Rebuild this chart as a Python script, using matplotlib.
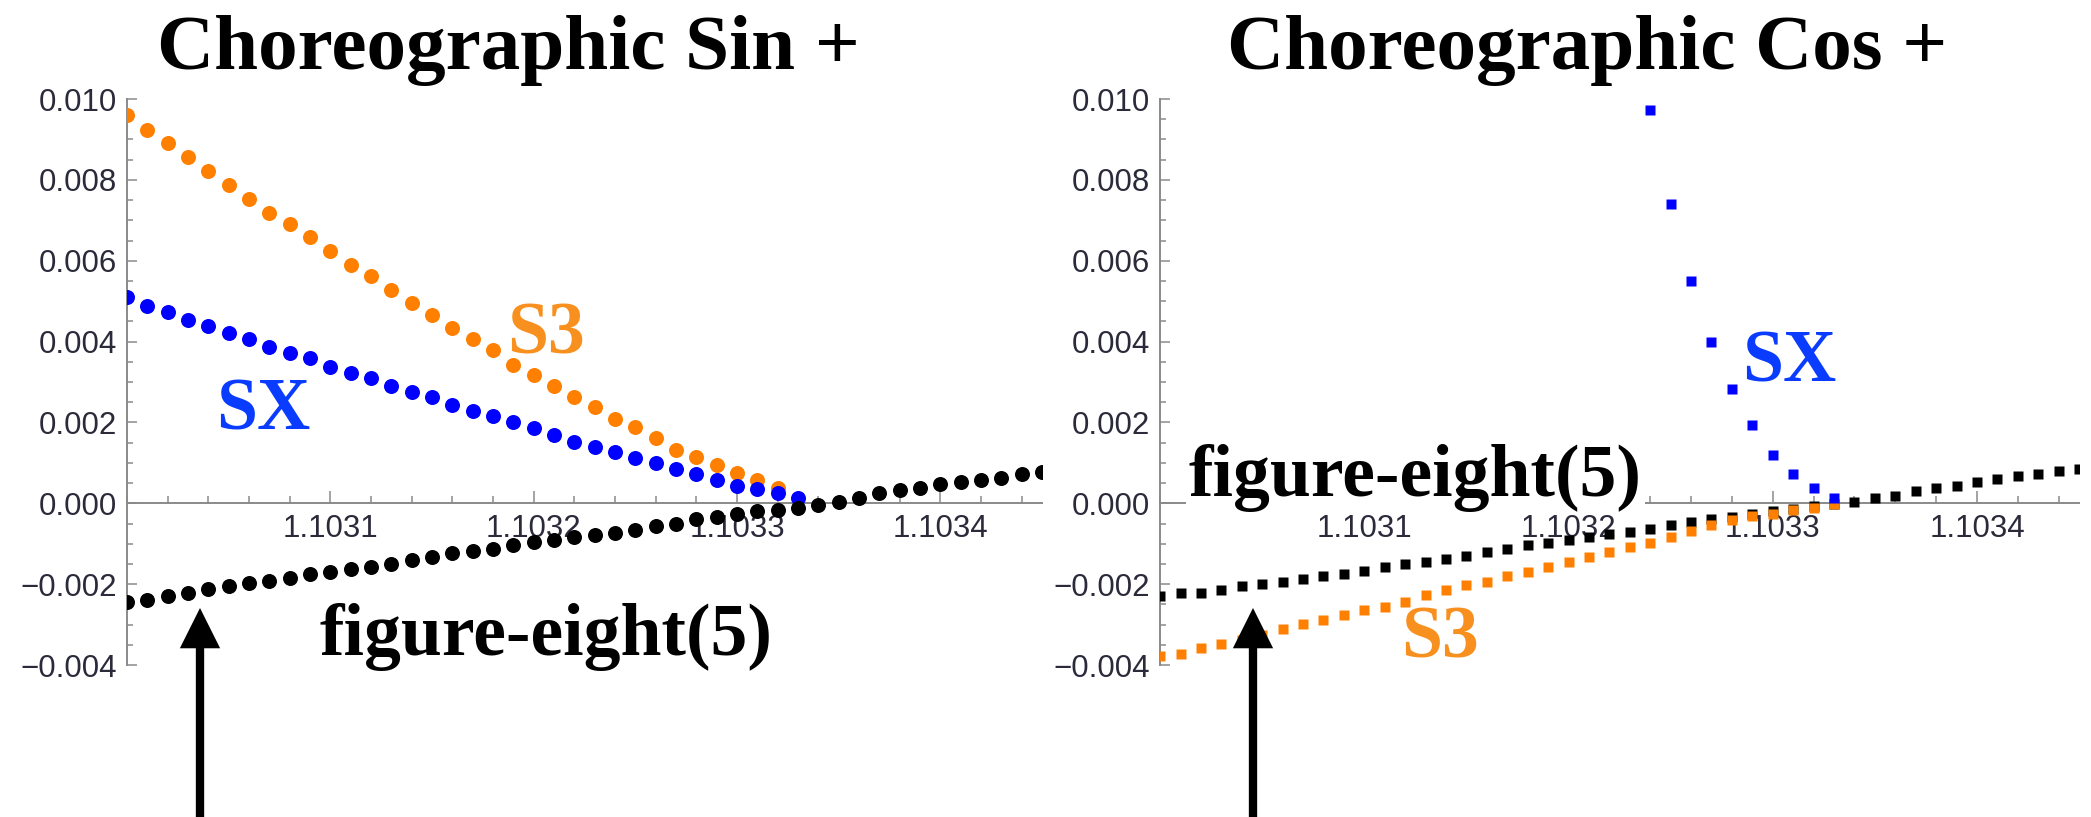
import matplotlib
matplotlib.use("Agg")
import matplotlib.pyplot as plt
from matplotlib.ticker import MultipleLocator, FixedLocator, FuncFormatter

# ── data ──────────────────────────────────────────────────────────────────
x_all = [1.10300, 1.10301, 1.10302, 1.10303, 1.10304, 1.10305, 1.10306, 1.10307,
         1.10308, 1.10309, 1.10310, 1.10311, 1.10312, 1.10313, 1.10314, 1.10315,
         1.10316, 1.10317, 1.10318, 1.10319, 1.10320, 1.10321, 1.10322, 1.10323,
         1.10324, 1.10325, 1.10326, 1.10327, 1.10328, 1.10329, 1.10330, 1.10331,
         1.10332, 1.10333, 1.10334, 1.10335, 1.10336, 1.10337, 1.10338, 1.10339,
         1.10340, 1.10341, 1.10342, 1.10343, 1.10344, 1.10345]

# left panel: Choreographic Sin +
sin_s3 = [0.00960, 0.00923, 0.00890, 0.00857, 0.00822, 0.00788, 0.00752, 0.00719,
          0.00691, 0.00658, 0.00625, 0.00590, 0.00563, 0.00528, 0.00496, 0.00467,
          0.00434, 0.00407, 0.00378, 0.00343, 0.00318, 0.00291, 0.00264, 0.00238,
          0.00209, 0.00188, 0.00161, 0.00133, 0.00114, 0.00094, 0.00075, 0.00057,
          0.00039]
sin_sx = [0.00511, 0.00489, 0.00474, 0.00454, 0.00439, 0.00421, 0.00407, 0.00386,
          0.00371, 0.00359, 0.00338, 0.00323, 0.00310, 0.00291, 0.00275, 0.00263,
          0.00244, 0.00228, 0.00216, 0.00201, 0.00187, 0.00168, 0.00151, 0.00139,
          0.00127, 0.00113, 0.00100, 0.00086, 0.00072, 0.00057, 0.00044, 0.00036,
          0.00026, 0.00014]
sin_fig8 = [-0.00244, -0.00238, -0.00230, -0.00221, -0.00213, -0.00205, -0.00198, -0.00193,
            -0.00184, -0.00175, -0.00170, -0.00163, -0.00157, -0.00151, -0.00141, -0.00133,
            -0.00124, -0.00119, -0.00112, -0.00104, -0.00096, -0.00090, -0.00083, -0.00079,
            -0.00073, -0.00067, -0.00056, -0.00050, -0.00040, -0.00034, -0.00027, -0.00019,
            -0.00017, -0.00011, -0.00005, 0.00003, 0.00012, 0.00025, 0.00034, 0.00039,
            0.00047, 0.00053, 0.00058, 0.00063, 0.00072, 0.00077]

# right panel: Choreographic Cos +
cos_s3 = [-0.00378, -0.00373, -0.00359, -0.00347, -0.00337, -0.00325, -0.00312, -0.00299,
          -0.00289, -0.00277, -0.00264, -0.00256, -0.00244, -0.00227, -0.00215, -0.00202,
          -0.00194, -0.00180, -0.00170, -0.00157, -0.00145, -0.00134, -0.00121, -0.00108,
          -0.00098, -0.00083, -0.00068, -0.00054, -0.00042, -0.00032, -0.00026, -0.00017,
          -0.00011, -0.00002]
cos_sx_x = [1.10324, 1.10325, 1.10326, 1.10327, 1.10328, 1.10329, 1.10330, 1.10331,
            1.10332, 1.10333]
cos_sx = [0.00972, 0.00740, 0.00549, 0.00398, 0.00283, 0.00194, 0.00119, 0.00072,
          0.00039, 0.00014]
cos_fig8 = [-0.00229, -0.00223, -0.00221, -0.00215, -0.00205, -0.00200, -0.00194, -0.00188,
            -0.00179, -0.00174, -0.00167, -0.00157, -0.00149, -0.00145, -0.00137, -0.00131,
            -0.00120, -0.00112, -0.00104, -0.00098, -0.00091, -0.00083, -0.00077, -0.00071,
            -0.00063, -0.00054, -0.00046, -0.00040, -0.00034, -0.00027, -0.00019, -0.00013,
            -0.00007, -0.00001, 0.00003, 0.00012, 0.00018, 0.00030, 0.00039, 0.00044,
            0.00053, 0.00059, 0.00067, 0.00073, 0.00080, 0.00086]

x_major = [1.1031, 1.1032, 1.1033, 1.1034]
titles = ["Choreographic Sin +", "Choreographic Cos +"]

ORANGE = "#ff8000"
BLUE = "#0000ff"
S3_TXT = "#f7901e"
SX_TXT = "#0a3cff"
AXIS_GRAY = "#8a8a8a"
SERIF = "Liberation Serif"

fig = plt.figure(figsize=(20.91, 8.17), dpi=100)
ax_l = fig.add_axes([0.0607, 0.1860, 0.4376, 0.6928])
ax_r = fig.add_axes([0.5548, 0.1860, 0.4395, 0.6928])


def style_axes(ax):
    ax.set_xlim(1.10300, 1.10345)
    ax.set_ylim(-0.004, 0.010)
    ax.spines["top"].set_visible(False)
    ax.spines["right"].set_visible(False)
    ax.spines["bottom"].set_position(("data", 0))
    for s in ("left", "bottom"):
        ax.spines[s].set_color(AXIS_GRAY)
        ax.spines[s].set_linewidth(1.4)
    ax.xaxis.set_major_locator(FixedLocator(x_major))
    ax.xaxis.set_minor_locator(MultipleLocator(0.00002))
    ax.yaxis.set_major_locator(MultipleLocator(0.002))
    ax.yaxis.set_minor_locator(MultipleLocator(0.0005))
    ax.xaxis.set_major_formatter(FuncFormatter(lambda v, p: f"{v:.4f}"))
    ax.yaxis.set_major_formatter(
        FuncFormatter(lambda v, p: f"{v:.3f}".replace("-", "\u2212")))
    ax.tick_params(axis="x", which="major", direction="in", length=9, width=1.1,
                   color=AXIS_GRAY, pad=8)
    ax.tick_params(axis="x", which="minor", direction="in", length=5, width=1.1,
                   color=AXIS_GRAY)
    ax.tick_params(axis="y", which="major", direction="in", length=7.5, width=1.1,
                   color=AXIS_GRAY, pad=7)
    ax.tick_params(axis="y", which="minor", direction="in", length=4.5, width=1.1,
                   color=AXIS_GRAY)
    for lab in ax.get_xticklabels() + ax.get_yticklabels():
        lab.set_fontfamily("Liberation Sans")
        lab.set_fontsize(22.5)
        lab.set_color("#2a2a3a")
    ax.patch.set_alpha(0)


for ax in (ax_l, ax_r):
    style_axes(ax)

# left: circles
ax_l.plot(x_all[:len(sin_s3)], sin_s3, "o", color=ORANGE, ms=10.8, mec="none", zorder=3)
ax_l.plot(x_all[:len(sin_sx)], sin_sx, "o", color=BLUE, ms=10.8, mec="none", zorder=3)
ax_l.plot(x_all, sin_fig8, "o", color="black", ms=10.8, mec="none", zorder=3)

# right: squares
ax_r.plot(x_all, cos_fig8, "s", color="black", ms=7.5, mec="none", zorder=3)
ax_r.plot(x_all[:len(cos_s3)], cos_s3, "s", color=ORANGE, ms=7.5, mec="none", zorder=3)
ax_r.plot(cos_sx_x, cos_sx, "s", color=BLUE, ms=7.5, mec="none", zorder=3)

lab_kw = dict(fontfamily=SERIF, fontweight="bold", fontsize=53, ha="center", va="center")
ax_l.text(1.103206, 0.00415, "S3", color=S3_TXT, zorder=5, **lab_kw)
ax_l.text(1.103067, 0.00227, "SX", color=SX_TXT, zorder=5, **lab_kw)
ax_l.text(1.103206, -0.00331, "figure-eight(5)", color="black", zorder=5,
          clip_on=False, **lab_kw)
ax_r.text(1.103308, 0.00346, "SX", color=SX_TXT, zorder=5, **lab_kw)
ax_r.text(1.103137, -0.00336, "S3", color=S3_TXT, zorder=5, **lab_kw)
ax_r.text(1.103125, 0.00062, "figure-eight(5)", color="black", zorder=5,
          bbox=dict(facecolor="white", edgecolor="none", pad=2), **lab_kw)

# titles
fig.text(508 / 2091, 1 - 69 / 817, titles[0], fontfamily=SERIF, fontweight="bold",
         fontsize=57, ha="center", va="baseline")
fig.text(1587 / 2091, 1 - 69 / 817, titles[1], fontfamily=SERIF, fontweight="bold",
         fontsize=57, ha="center", va="baseline")

# arrows from the bottom edge
for xpix in (200, 1253):
    fig.add_artist(plt.Annotation(
        "", xy=(xpix, 817 - 608), xytext=(xpix, -5),
        xycoords="figure pixels", textcoords="figure pixels",
        arrowprops=dict(facecolor="black", edgecolor="none", width=6,
                        headwidth=29, headlength=29, shrink=0)))

fig.savefig("out.png", dpi=100)
